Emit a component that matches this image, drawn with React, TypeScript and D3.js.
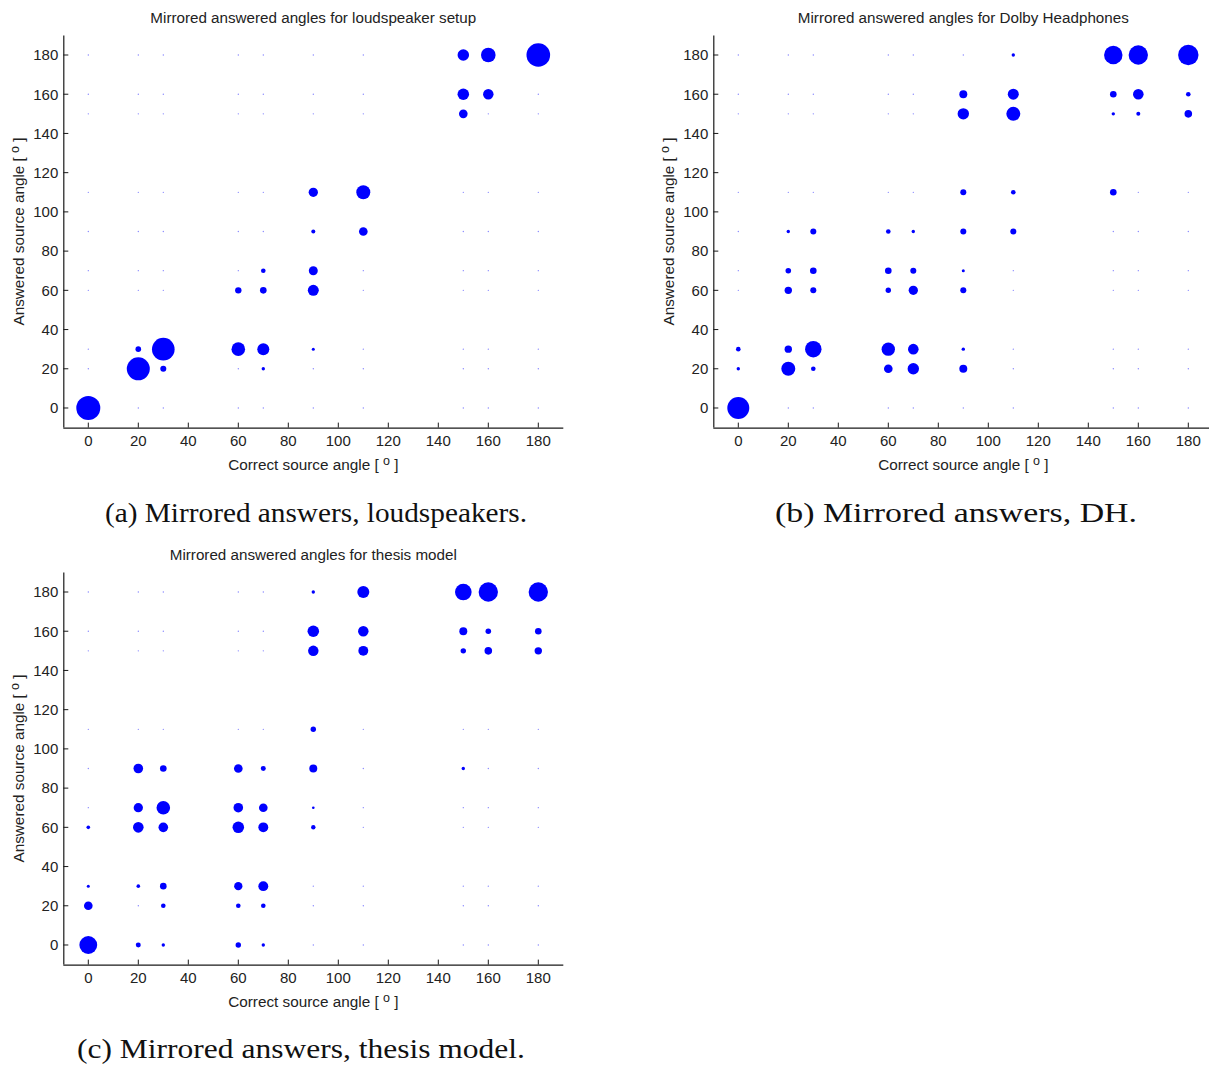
import React from "react";
import * as d3 from "d3";

// Grid of source angles (both axes)
const angles = [0, 20, 30, 60, 70, 90, 110, 150, 160, 180];
const tickValues = [0, 20, 40, 60, 80, 100, 120, 140, 160, 180];

// [correct angle, answered angle, share of responses (%)] – non-zero cells only
const loudspeaker: [number, number, number][] = [
  [0, 0, 100],
  [20, 20, 92], [20, 30, 5.4],
  [30, 30, 89], [30, 20, 6.3],
  [60, 30, 32], [60, 60, 7.1],
  [70, 30, 25], [70, 20, 2], [70, 60, 7.6], [70, 70, 3.7],
  [90, 110, 15], [90, 90, 2.8], [90, 70, 14], [90, 60, 21], [90, 30, 1.6],
  [110, 110, 34], [110, 90, 13],
  [150, 180, 23], [150, 160, 23], [150, 150, 13],
  [160, 180, 37], [160, 160, 19],
  [180, 180, 97],
];

const dolby: [number, number, number][] = [
  [0, 0, 84], [0, 20, 2], [0, 30, 3.7],
  [20, 20, 34], [20, 30, 9.5], [20, 60, 9.5], [20, 70, 5.4], [20, 90, 2],
  [30, 30, 47], [30, 20, 3.7], [30, 60, 6.3], [30, 70, 7.6], [30, 90, 6.3],
  [60, 30, 31], [60, 20, 13], [60, 60, 5.1], [60, 70, 7.6], [60, 90, 3.7],
  [70, 30, 19.5], [70, 20, 22.6], [70, 60, 15], [70, 70, 6.3], [70, 90, 2],
  [90, 20, 11], [90, 30, 2], [90, 60, 6.3], [90, 70, 1.6], [90, 90, 6.3],
  [90, 110, 6.3], [90, 150, 22.6], [90, 160, 11],
  [110, 180, 2], [110, 160, 21], [110, 150, 34], [110, 110, 3.7], [110, 90, 6.3],
  [150, 180, 59], [150, 160, 7.6], [150, 150, 2], [150, 110, 7.6],
  [160, 180, 65], [160, 160, 19.5], [160, 150, 2.8],
  [180, 180, 72], [180, 160, 3.7], [180, 150, 10],
];

const thesis: [number, number, number][] = [
  [0, 0, 55], [0, 20, 13], [0, 30, 1.6], [0, 60, 2.3],
  [20, 0, 4.3], [20, 30, 2.3], [20, 60, 19.5], [20, 70, 15], [20, 90, 16],
  [30, 0, 2], [30, 20, 3.7], [30, 30, 7.6], [30, 60, 16], [30, 70, 32], [30, 90, 7.6],
  [60, 0, 5.1], [60, 20, 3.7], [60, 30, 12], [60, 60, 23], [60, 70, 16], [60, 90, 13],
  [70, 0, 2], [70, 20, 3.7], [70, 30, 17], [70, 60, 17], [70, 70, 13], [70, 90, 4.3],
  [90, 60, 3.4], [90, 70, 1.2], [90, 90, 11], [90, 110, 5.1], [90, 150, 19],
  [90, 160, 23], [90, 180, 2],
  [110, 180, 25], [110, 160, 19], [110, 150, 17],
  [150, 180, 48], [150, 160, 11], [150, 150, 5.1], [150, 90, 2],
  [160, 180, 65], [160, 160, 5.4], [160, 150, 10],
  [180, 180, 65], [180, 160, 7.6], [180, 150, 9.5],
];

const titles = [
  "Mirrored answered angles for loudspeaker setup",
  "Mirrored answered angles for Dolby Headphones",
  "Mirrored answered angles for thesis model",
];
const captions = [
  "(a) Mirrored answers, loudspeakers.",
  "(b) Mirrored answers, DH.",
  "(c) Mirrored answers, thesis model.",
];

const SANS = "'Liberation Sans', Arial, Helvetica, sans-serif";
const SERIF = "'Liberation Serif', 'DejaVu Serif', serif";

function Chart({ ox, oy, title, data }: { ox: number; oy: number; title: string; data: [number, number, number][] }) {
  const x = d3.scaleLinear().domain([-10, 190]).range([63.3, 563.3]);
  const y = d3.scaleLinear().domain([-10, 190]).range([427.6, 35.4]);
  const r = d3.scaleSqrt().domain([0, 100]).range([0, 12]);
  const axisColor = "#1a1a1a";
  const zeros: [number, number][] = [];
  angles.forEach((a) => angles.forEach((b) => zeros.push([a, b])));
  return (
    <g transform={`translate(${ox},${oy})`}>
      <text x={(x(-10) + x(190)) / 2} y={22.5} textAnchor="middle" fontFamily={SANS} fontSize={15.2} fill="#222">
        {title}
      </text>
      {/* zero cells */}
      {zeros.map(([a, b], i) => (
        <circle key={"z" + i} cx={x(a)} cy={y(b)} r={0.65} fill="#8080ff" />
      ))}
      {data.map(([a, b, v], i) => (
        <circle key={"d" + i} cx={x(a)} cy={y(b)} r={r(v)} fill="#0000ff" />
      ))}
      {/* axes */}
      <line x1={x(-10)} x2={x(190)} y1={y(-10) + 0.5} y2={y(-10) + 0.5} stroke={axisColor} strokeWidth={1.2} />
      <line x1={x(-10) + 0.5} x2={x(-10) + 0.5} y1={y(-10)} y2={y(190)} stroke={axisColor} strokeWidth={1.2} />
      {tickValues.map((t) => (
        <g key={"xt" + t}>
          <line x1={x(t)} x2={x(t)} y1={y(-10)} y2={y(-10) - 5} stroke={axisColor} strokeWidth={1} />
          <text x={x(t)} y={y(-10) + 18.5} textAnchor="middle" fontFamily={SANS} fontSize={15} fill="#222">
            {t}
          </text>
        </g>
      ))}
      {tickValues.map((t) => (
        <g key={"yt" + t}>
          <line x1={x(-10)} x2={x(-10) + 5} y1={y(t)} y2={y(t)} stroke={axisColor} strokeWidth={1} />
          <text x={x(-10) - 5} y={y(t) + 5.3} textAnchor="end" fontFamily={SANS} fontSize={15} fill="#222">
            {t}
          </text>
        </g>
      ))}
      <text x={(x(-10) + x(190)) / 2} y={470} textAnchor="middle" fontFamily={SANS} fontSize={15.3} fill="#222">
        Correct source angle [ <tspan dy={-5} fontSize={12.5}>o</tspan><tspan dy={5}> ]</tspan>
      </text>
      <text
        transform={`translate(23.5,${(y(-10) + y(190)) / 2}) rotate(-90)`}
        textAnchor="middle"
        fontFamily={SANS}
        fontSize={15.3}
        fill="#222"
      >
        Answered source angle [ <tspan dy={-5} fontSize={12.5}>o</tspan><tspan dy={5}> ]</tspan>
      </text>
    </g>
  );
}

export default function App() {
  return (
    <svg
      width={1209}
      height={1066}
      style={{ position: "absolute", left: 0, top: 0, background: "#fff" }}
    >
      <rect width={1209} height={1066} fill="#fff" />
      <Chart ox={0} oy={0} title={titles[0]} data={loudspeaker} />
      <Chart ox={650} oy={0} title={titles[1]} data={dolby} />
      <Chart ox={0} oy={537} title={titles[2]} data={thesis} />
      <text x={105} y={522} fontFamily={SERIF} fontSize={27} fill="#111" textLength={422} lengthAdjust="spacingAndGlyphs">{captions[0]}</text>
      <text x={775} y={522} fontFamily={SERIF} fontSize={27} fill="#111" textLength={362} lengthAdjust="spacingAndGlyphs">{captions[1]}</text>
      <text x={77} y={1058} fontFamily={SERIF} fontSize={27} fill="#111" textLength={448} lengthAdjust="spacingAndGlyphs">{captions[2]}</text>
    </svg>
  );
}
